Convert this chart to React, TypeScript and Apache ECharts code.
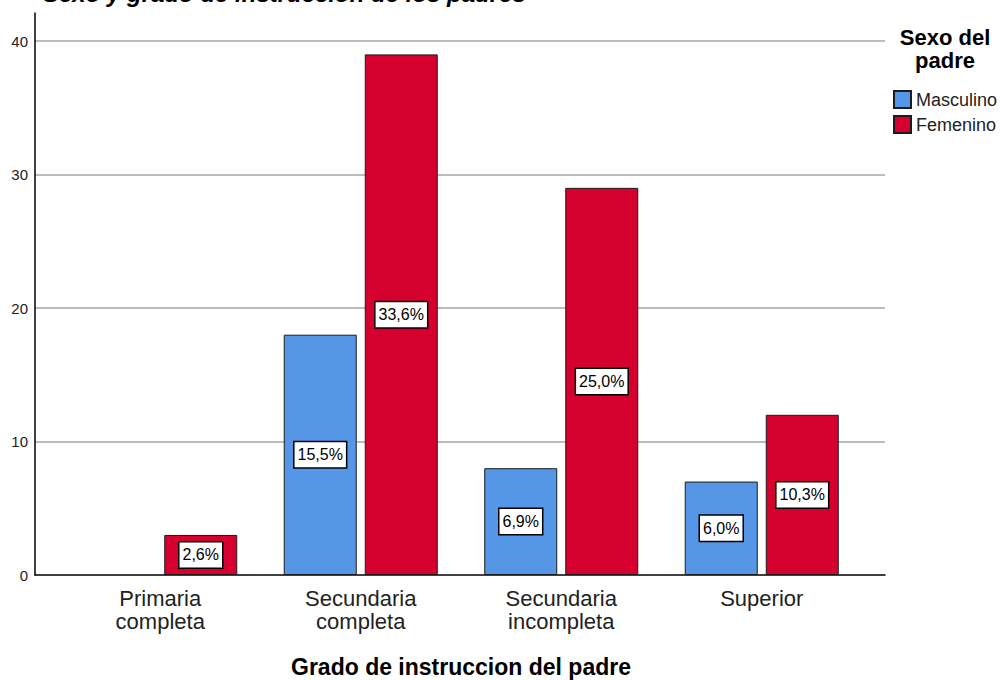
import React, { useEffect, useRef } from "react";
import * as echarts from "echarts";

const categories = ["Primaria\ncompleta", "Secundaria\ncompleta", "Secundaria\nincompleta", "Superior"];
const seriesNames = ["Masculino", "Femenino"];
const masculino: (number | null)[] = [null, 18, 8, 7];
const femenino: (number | null)[] = [3, 39, 29, 12];
const masculinoPct: (number | null)[] = [null, 15.5, 6.9, 6.0];
const femeninoPct: (number | null)[] = [2.6, 33.6, 25.0, 10.3];
const yTicks = [0, 10, 20, 30, 40];

const FONT = "'Liberation Sans', Arial, sans-serif";
const fmtPct = (v: number | null) => (v == null ? "" : v.toFixed(1).replace(".", ",") + "%");

export default function App() {
  const ref = useRef<HTMLDivElement>(null);
  useEffect(() => {
    if (!ref.current) return;
    const chart = echarts.init(ref.current, null, { renderer: "svg" });
    const yMax = 42.1;
    const labelStyle = {
      show: true,
      position: "inside",
      backgroundColor: "#ffffff",
      borderColor: "#000000",
      borderWidth: 1.5,
      padding: [3, 3],
      fontSize: 16,
      lineHeight: 19,
      color: "#000000",
      fontFamily: FONT,
    };
    chart.setOption({
      animation: false,
      backgroundColor: "#ffffff",
      textStyle: { fontFamily: FONT },
      grid: [
        { left: 35, right: 115, top: 13, bottom: 105, outerBoundsMode: "none", containLabel: false },
        { left: 60, right: 138, top: 13, bottom: 105, outerBoundsMode: "none", containLabel: false },
      ],
      legend: {
        data: seriesNames,
        orient: "vertical",
        left: 888,
        top: 85,
        itemWidth: 17,
        itemHeight: 17,
        itemGap: 6,
        icon: "rect",
        selectedMode: false,
        textStyle: { fontSize: 18, color: "#222", fontFamily: FONT },
      },
      graphic: [
        {
          type: "text",
          left: 43,
          top: -19,
          style: {
            text: "Sexo y grado de instruccion de los padres",
            font: "italic bold 24px " + FONT,
            fill: "#000",
          },
        },
        {
          type: "text",
          x: 945,
          y: 26,
          style: {
            text: "Sexo del\npadre",
            font: "bold 22px " + FONT,
            lineHeight: 23,
            align: "center",
            verticalAlign: "top",
            fill: "#000",
          },
        },
      ],
      xAxis: [
        {
          type: "value",
          gridIndex: 0,
          min: 0,
          max: 1,
          axisLine: { show: true, lineStyle: { color: "#000", width: 1.5 } },
          axisTick: { show: false },
          axisLabel: { show: false },
          splitLine: { show: false },
        },
        {
          type: "category",
          gridIndex: 1,
          data: categories,
          axisLine: { show: false },
          axisTick: { show: false },
          axisLabel: { fontSize: 22, lineHeight: 23, color: "#222", margin: 12, fontFamily: FONT },
          name: "Grado de instruccion del padre",
          nameLocation: "middle",
          nameGap: 80,
          nameMoveOverlap: false,
          nameTextStyle: { fontSize: 23, fontWeight: "bold", color: "#000", fontFamily: FONT },
        },
      ],
      yAxis: [
        {
          type: "value",
          gridIndex: 0,
          min: 0,
          max: yMax,
          interval: 10,
          axisLine: { show: true, lineStyle: { color: "#000", width: 1.5 } },
          axisTick: { show: false },
          axisLabel: {
            fontSize: 15,
            color: "#222",
            margin: 7,
            fontFamily: FONT,
            showMaxLabel: false,
            formatter: (v: number) => (yTicks.includes(v) ? String(v) : ""),
          },
          splitLine: {
            show: true,
            showMaxLine: false,
            showMinLine: false,
            lineStyle: { color: "#a6a6a6", width: 1.5 },
          },
        },
        {
          type: "value",
          gridIndex: 1,
          min: 0,
          max: yMax,
          show: false,
          splitLine: { show: false },
        },
      ],
      series: [
        {
          name: seriesNames[0],
          type: "bar",
          xAxisIndex: 1,
          yAxisIndex: 1,
          data: masculino,
          barWidth: 73,
          barGap: "11%",
          itemStyle: { color: "#5596E6", borderColor: "#1c1c1c", borderWidth: 1 },
          label: { ...labelStyle, formatter: (p: any) => fmtPct(masculinoPct[p.dataIndex]) },
        },
        {
          name: seriesNames[1],
          type: "bar",
          xAxisIndex: 1,
          yAxisIndex: 1,
          data: femenino,
          barWidth: 73,
          barGap: "11%",
          itemStyle: { color: "#D5002E", borderColor: "#1c1c1c", borderWidth: 1 },
          label: { ...labelStyle, formatter: (p: any) => fmtPct(femeninoPct[p.dataIndex]) },
        },
      ],
    });
    return () => chart.dispose();
  }, []);
  return (
    <div
      ref={ref}
      style={{ position: "fixed", left: 0, top: 0, width: 1000, height: 680, background: "#fff" }}
    />
  );
}
